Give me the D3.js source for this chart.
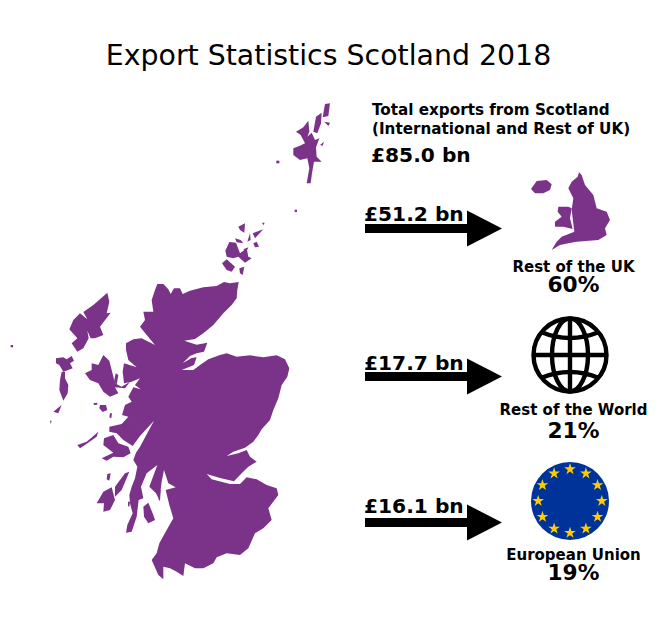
<!DOCTYPE html>
<html>
<head>
<meta charset="utf-8">
<script src="https://cdn.jsdelivr.net/npm/d3@7"></script>
<style>
  html, body { margin: 0; background: #fff; }
  text { font-family: "DejaVu Sans", sans-serif; fill: #000; }
  .lbl { font-weight: bold; }
</style>
</head>
<body>
<div id="app"></div>
<script>
const title = 'Export Statistics Scotland 2018';
const headerLines = ['Total exports from Scotland', '(International and Rest of UK)'];
const totalLabel = '£85.0 bn';

// destinations, top to bottom
const destinations = ['Rest of the UK', 'Rest of the World', 'European Union'];
const exportValues = [51.2, 17.7, 16.1];
const sharePercent = [60, 21, 19];

// outlines, in 3x crop units
const mainland = [[472,42],[490,42],[505,58],[512,72],[522,55],[540,55],[548,72],[570,62],[610,52],[650,48],[672,36],[690,40],[716,36],[712,60],[710,85],[695,105],[670,130],[640,165],[610,190],[585,207],[553,212],[590,224],[622,218],[612,245],[590,250],[570,258],[548,280],[575,264],[590,262],[582,285],[545,300],[580,300],[600,285],[625,268],[660,255],[680,250],[710,260],[750,256],[790,262],[830,256],[855,268],[868,295],[862,320],[845,345],[835,385],[820,420],[810,450],[785,478],[775,495],[760,515],[735,533],[700,545],[680,558],[715,550],[740,540],[750,560],[770,575],[745,590],[725,610],[702,634],[660,624],[620,612],[635,628],[690,642],[720,642],[740,622],[770,628],[800,645],[830,655],[835,675],[805,715],[815,750],[790,775],[765,790],[745,835],[720,855],[680,850],[650,862],[640,880],[610,895],[585,895],[555,880],[550,918],[530,905],[510,895],[490,890],[490,928],[475,915],[455,870],[470,850],[478,820],[500,780],[520,745],[508,705],[497,660],[527,652],[505,640],[492,600],[485,635],[478,690],[468,670],[448,650],[472,585],[440,610],[423,650],[430,685],[416,690],[410,740],[395,785],[378,788],[382,765],[398,730],[390,700],[388,675],[395,650],[405,625],[412,590],[400,570],[408,548],[420,530],[462,452],[420,498],[398,528],[370,510],[350,490],[328,485],[328,470],[365,462],[385,440],[366,435],[375,405],[395,395],[385,380],[400,352],[422,358],[405,345],[420,325],[395,335],[372,340],[368,305],[372,280],[410,292],[385,270],[378,240],[378,220],[400,208],[425,205],[465,225],[440,195],[420,170],[435,150],[430,125],[460,125],[455,90],[465,60]];
const inner = [
  [[255,310],[275,300],[275,280],[295,285],[310,255],[328,272],[335,300],[345,340],[365,350],[390,335],[375,355],[345,352],[355,370],[330,380],[310,365],[295,340],[270,330]],
  [[347,310],[355,315],[350,345],[342,335]],
  [[300,405],[318,405],[322,420],[308,426],[298,415]],
  [[280,400],[292,398],[292,404],[282,405]],
  [[330,430],[336,430],[334,445],[328,442]],
  [[232,525],[260,515],[295,485],[290,500],[255,525],[240,535]],
  [[312,505],[340,495],[355,520],[385,530],[392,550],[370,562],[340,560],[320,572],[305,565],[340,548],[310,525]],
  [[345,650],[375,610],[388,605],[365,660],[345,680]],
  [[290,700],[310,665],[335,652],[345,690],[330,720],[310,725],[312,700]],
  [[322,612],[332,610],[328,632],[320,628]],
  [[384,695],[390,695],[388,710],[384,708]],
  [[430,710],[445,698],[460,735],[465,750],[445,760],[432,740]],
  [[478,660],[482,660],[480,692],[476,690]],
  [[322,68],[328,95],[320,130],[332,128],[300,170],[310,195],[285,205],[272,205],[262,182],[266,205],[250,235],[232,245],[215,220],[232,205],[208,178],[220,150],[240,130],[262,148],[250,126],[280,105]],
  [[168,265],[190,262],[200,268],[215,258],[222,272],[210,280],[218,295],[205,300],[190,305],[178,285],[168,280]],
  [[185,305],[195,305],[195,325],[205,345],[203,370],[190,392],[178,360],[180,330]],
  [[160,425],[185,405],[175,430]],
  [[150,452],[155,452],[152,462]],
  [[32,225],[39,225],[39,232],[32,232]]
];
const northIsles = [
  [[250,175],[268,168],[285,160],[272,135],[258,125],[280,112],[295,92],[298,125],[292,140],[305,128],[315,150],[328,145],[318,172],[320,200],[335,215],[312,215],[306,250],[302,280],[290,280],[298,235],[292,205],[270,210],[250,195]],
  [[310,125],[318,80],[335,68],[333,100],[322,130]],
  [[338,82],[345,42],[360,40],[355,78]],
  [[343,95],[360,98],[355,108]],
  [[330,165],[342,155],[338,167]],
  [[199,212],[208,212],[208,220],[199,220]],
  [[254,359],[261,359],[261,366],[254,366]],
  [[46,482],[58,456],[78,458],[90,490],[110,475],[115,500],[125,505],[105,518],[85,500],[70,505],[50,500]],
  [[36,520],[50,508],[75,530],[65,545],[50,540]],
  [[88,535],[103,530],[98,555],[90,550]],
  [[85,410],[105,400],[103,428],[90,420]],
  [[128,430],[160,418],[135,445]],
  [[130,460],[140,455],[147,470],[135,472]],
  [[100,478],[115,472],[110,484]],
  [[75,445],[92,450],[100,460],[80,457]],
  [[112,455],[120,430],[122,450]],
  [[156,398],[164,398],[160,406]]
];
const restOfUk = [
  [[672,232],[680,240],[690,270],[715,300],[725,340],[755,350],[765,375],[750,400],[755,420],[730,435],[665,440],[640,445],[615,450],[590,465],[605,440],[620,425],[658,410],[650,345],[655,310],[640,280],[650,260],[668,245]],
  [[610,335],[640,335],[650,340],[645,370],[653,402],[625,395],[600,395],[600,380],[620,365],[608,350]],
  [[528,282],[545,258],[575,255],[590,268],[585,285],[565,295],[540,295]]
];

const w = 658;
const h = 628;
const purple = '#7b3289';

const svg = d3.select('#app')
  .append('svg')
  .attr('width', w)
  .attr('height', h)
  .style('display', 'block')
  .style('background', '#fff');

svg.append('text')
  .attr('x', 328.5)
  .attr('y', 65)
  .attr('text-anchor', 'middle')
  .style('font-size', '28.4px')
  .text(title);

// one scale pair per traced crop
function cropLine(x0, y0) {
  const x = d3.scaleLinear().domain([0, 3]).range([x0, x0 + 1]);
  const y = d3.scaleLinear().domain([0, 3]).range([y0, y0 + 1]);
  return d3.line().x((d) => x(d[0])).y((d) => y(d[1])).curve(d3.curveLinearClosed);
}

const drawShapes = (shapes, line) => svg.append('g')
  .selectAll('path')
  .data(shapes)
  .join('path')
  .attr('d', line)
  .attr('fill', purple);

drawShapes([mainland, ...inner], cropLine(0, 270));
drawShapes(northIsles, cropLine(210, 90));
drawShapes(restOfUk, cropLine(355, 95));

// header block
svg.append('g')
  .selectAll('text')
  .data(headerLines)
  .join('text')
  .attr('class', 'lbl')
  .attr('x', 372)
  .attr('y', (d, i) => 115 + i * 19)
  .style('font-size', '15.2px')
  .text((d) => d);

svg.append('text')
  .attr('class', 'lbl')
  .attr('x', 371)
  .attr('y', 162)
  .style('font-size', '20.2px')
  .text(totalLabel);

// rows: arrow, amount, name, share
const rowArrow = d3.scaleOrdinal().domain(destinations).range([228.5, 376.5, 522.5]);
const rowAmount = d3.scaleOrdinal().domain(destinations).range([221, 370, 513]);
const rowName = d3.scaleOrdinal().domain(destinations).range([272, 415, 560]);
const rowShare = d3.scaleOrdinal().domain(destinations).range([292, 437.5, 580]);

const rows = svg.append('g')
  .selectAll('g')
  .data(destinations)
  .join('g');

rows.append('rect')
  .attr('x', 365)
  .attr('y', (d) => rowArrow(d) - 4.5)
  .attr('width', 105)
  .attr('height', 9)
  .attr('fill', '#000');

rows.append('path')
  .attr('d', (d) => {
    const p = d3.path();
    p.moveTo(467, rowArrow(d) - 18);
    p.lineTo(502, rowArrow(d));
    p.lineTo(467, rowArrow(d) + 18);
    p.closePath();
    return p.toString();
  })
  .attr('fill', '#000');

rows.append('text')
  .attr('class', 'lbl')
  .attr('x', 364)
  .attr('y', (d) => rowAmount(d))
  .style('font-size', '20.2px')
  .text((d, i) => `£${exportValues[i].toFixed(1)} bn`);

rows.append('text')
  .attr('class', 'lbl')
  .attr('x', 573.5)
  .attr('y', (d) => rowName(d))
  .attr('text-anchor', 'middle')
  .style('font-size', '15px')
  .text((d) => d);

rows.append('text')
  .attr('class', 'lbl')
  .attr('x', 573.5)
  .attr('y', (d) => rowShare(d))
  .attr('text-anchor', 'middle')
  .style('font-size', '21.7px')
  .text((d, i) => `${sharePercent[i]}%`);

// globe icon
const globeR = 36.5;
const globe = svg.append('g')
  .attr('transform', 'translate(570,355)')
  .attr('fill', 'none')
  .attr('stroke', '#000')
  .attr('stroke-width', 4.4);

globe.append('circle').attr('r', globeR);
globe.append('ellipse').attr('rx', 18).attr('ry', globeR);
globe.append('line').attr('x1', -globeR).attr('x2', globeR);
globe.append('line').attr('y1', -globeR).attr('y2', globeR);
[-1, 1].forEach((s) => {
  const p = d3.path();
  p.moveTo(-29, s * 23);
  p.quadraticCurveTo(0, s * 11, 29, s * 23);
  globe.append('path').attr('d', p.toString());
});

// EU flag
const flag = svg.append('g').attr('transform', 'translate(570,501)');
flag.append('circle').attr('r', 39).attr('fill', '#003399');
flag.selectAll('path')
  .data(d3.range(12))
  .join('path')
  .attr('d', d3.symbol().type(d3.symbolStar).size(42))
  .attr('transform', (d) => {
    const a = d * Math.PI / 6;
    return `translate(${31.8 * Math.sin(a)},${-31.8 * Math.cos(a)})`;
  })
  .attr('fill', '#ffcc00');
</script>
</body>
</html>
